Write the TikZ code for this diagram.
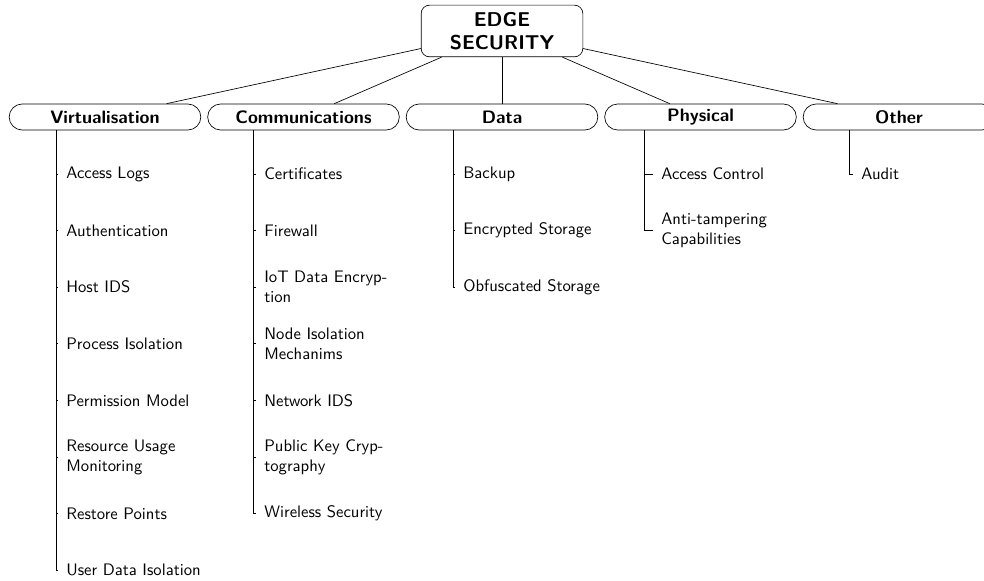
\documentclass[tikz,border=0pt]{standalone}
\usepackage{amssymb,amsmath}
\usepackage{tikz}

\begin{document}
\begin{tikzpicture}[x=0.6pt,y=0.6pt,yscale=-1,xscale=1,
  font=\sffamily,
  rootbox/.style={draw, rounded corners=5pt, minimum width=97pt, minimum height=31pt, inner sep=0pt, align=center, font=\sffamily\large\bfseries},
  catbox/.style={draw, rounded corners=7.8pt, minimum width=115pt, minimum height=15.6pt, inner sep=0pt, font=\sffamily\bfseries\fontsize{10.8}{13}\selectfont},
  leaf/.style={anchor=west, align=left, inner xsep=4.8pt, inner ysep=0pt}]
\useasboundingbox (0,0) rectangle (984,581);

% Root
\node[rootbox] (root) at (502,31) {EDGE\\SECURITY};

% Categories
\node[catbox] (virt) at (105,117) {Virtualisation};
\node[catbox] (comm) at (303.5,117) {Communications};
\node[catbox] (data) at (502,117) {Data};
\node[catbox] (phys) at (700.5,117) {Physical};
\node[catbox] (other) at (899,117) {Other};

\foreach \c in {virt,comm,data,phys,other}
  \draw (root) -- (\c);

% Trunk tops
\coordinate (virtT) at (56,130);
\coordinate (commT) at (253,130);
\coordinate (dataT) at (453,130);
\coordinate (physT) at (644,130);
\coordinate (otherT) at (849,130);

% Virtualisation
\node[leaf] (virt1) at (58,174) {Access Logs};
\node[leaf] (virt2) at (58,230.6) {Authentication};
\node[leaf] (virt3) at (58,287.2) {Host IDS};
\node[leaf] (virt4) at (58,343.8) {Process Isolation};
\node[leaf] (virt5) at (58,400.4) {Permission Model};
\node[leaf] (virt6) at (58,457) {Resource Usage\\Monitoring};
\node[leaf] (virt7) at (58,513.6) {Restore Points};
\node[leaf] (virt8) at (58,570.2) {User Data Isolation};
\foreach \i in {1,...,8}
  \draw (virtT) |- (virt\i.west);

% Communications
\node[leaf] (comm1) at (256,174) {Certificates};
\node[leaf] (comm2) at (256,230.6) {Firewall};
\node[leaf] (comm3) at (256,287.2) {IoT Data Encryp-\\tion};
\node[leaf] (comm4) at (256,343.8) {Node Isolation\\Mechanims};
\node[leaf] (comm5) at (256,400.4) {Network IDS};
\node[leaf] (comm6) at (256,457) {Public Key Cryp-\\tography};
\node[leaf] (comm7) at (256,513.6) {Wireless Security};
\foreach \i in {1,...,7}
  \draw (commT) |- (comm\i.west);

% Data
\node[leaf] (data1) at (455,174) {Backup};
\node[leaf] (data2) at (455,230.6) {Encrypted Storage};
\node[leaf] (data3) at (455,287.2) {Obfuscated Storage};
\foreach \i in {1,...,3}
  \draw (dataT) |- (data\i.west);

% Physical
\node[leaf] (phys1) at (653,174) {Access Control};
\node[leaf] (phys2) at (653,230.6) {Anti-tampering\\Capabilities};
\foreach \i in {1,2}
  \draw (physT) |- (phys\i.west);

% Other
\node[leaf] (other1) at (853,174) {Audit};
\draw (otherT) |- (other1.west);

\end{tikzpicture}
\end{document}
